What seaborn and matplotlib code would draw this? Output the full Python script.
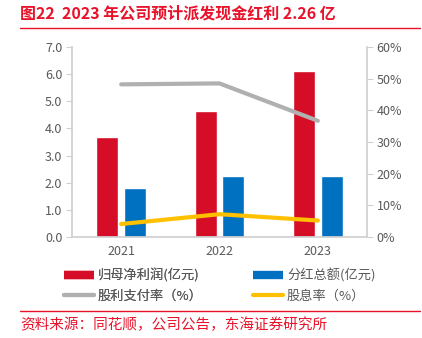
import matplotlib
matplotlib.use("Agg")
import matplotlib.pyplot as plt
from matplotlib.lines import Line2D
import seaborn as sns
import pandas as pd

years = ["2021", "2022", "2023"]
net_profit = [3.70, 4.64, 6.13]      # 归母净利润(亿元)
dividend = [1.79, 2.25, 2.26]        # 分红总额(亿元)
payout_ratio = [48.2, 48.5, 36.7]    # 股利支付率(%)
dividend_yield = [4.1, 7.2, 5.2]     # 股息率(%)

s_profit = "归母净利润(亿元)"
s_div = "分红总额(亿元)"
s_payout = "股利支付率（%）"
s_yield = "股息率（%）"

sns.set_theme(style="white")
plt.rcParams["font.family"] = ["Noto Sans CJK SC", "DejaVu Sans"]

RED = "#D50D26"
BLUE = "#0070C0"
GRAY = "#B0B0B0"
YELLOW = "#FFC000"
TXT = "#595959"
AX = "#D0D0D0"
TRED = "#E8122A"

df = pd.DataFrame({
    "year": years * 2,
    "value": net_profit + dividend,
    "series": [s_profit] * 3 + [s_div] * 3,
})

W, H = 422, 338
fig = plt.figure(figsize=(W / 100, H / 100), dpi=100)
ax = fig.add_axes([72 / W, (H - 237) / H, (367 - 72) / W, (237 - 47) / H])

sns.barplot(data=df, x="year", y="value", hue="series", order=years,
            hue_order=[s_profit, s_div], palette=[RED, BLUE],
            width=0.564, gap=0.2, ax=ax, legend=False, saturation=1)

ax.set_ylim(0, 7)
ax.set_yticks([i for i in range(8)])
ax.set_yticklabels([f"{i:.1f}" for i in range(8)])
ax.set_xlim(-0.5, 2.5)
ax.set_xlabel("")
ax.set_ylabel("")

ax2 = ax.twinx()
ldf = pd.DataFrame({"x": [0, 1, 2], "payout": payout_ratio, "yield": dividend_yield})
sns.lineplot(data=ldf, x="x", y="payout", color=GRAY, lw=3, ax=ax2)
sns.lineplot(data=ldf, x="x", y="yield", color=YELLOW, lw=3, ax=ax2)
ax2.set_ylim(0, 60)
ax2.set_yticks(range(0, 61, 10))
ax2.set_yticklabels([f"{v}%" for v in range(0, 61, 10)])
ax2.set_xlim(-0.5, 2.5)
ax2.set_xlabel("")
ax2.set_ylabel("")

for a in (ax, ax2):
    for sp in a.spines.values():
        sp.set_visible(False)
ax.spines["left"].set_visible(True)
ax.spines["left"].set_color(AX)
ax.spines["bottom"].set_visible(True)
ax.spines["bottom"].set_color(AX)
ax2.spines["right"].set_visible(True)
ax2.spines["right"].set_color(AX)

ax.set_xticks([-0.5, 0.5, 1.5], minor=True)
ax.tick_params(axis="x", which="minor", length=4, color=AX, width=0.8)
ax.tick_params(axis="x", which="major", length=0, labelsize=9, labelcolor=TXT, pad=6)
ax.tick_params(axis="y", length=4, color=AX, width=0.8, labelsize=9, labelcolor=TXT, pad=3, left=True)
ax2.tick_params(axis="y", length=4, color=AX, width=0.8, labelsize=9, labelcolor=TXT, pad=3, right=True)

def make_legend(hs, ls, x):
    lg = fig.legend(hs, ls, ncol=1, loc="upper left",
                    bbox_to_anchor=(x / W, 1 - 262 / H), frameon=False,
                    fontsize=9.5, handlelength=2.3, handletextpad=0.3,
                    labelspacing=0.55, borderpad=0)
    for t in lg.get_texts():
        t.set_color(TXT)
    return lg

leg1 = make_legend([Line2D([], [], color=RED, lw=6, solid_capstyle="butt"),
                    Line2D([], [], color=GRAY, lw=3)],
                   [s_profit, s_payout], 57)
fig.add_artist(leg1)
leg2 = make_legend([Line2D([], [], color=BLUE, lw=6, solid_capstyle="butt"),
                    Line2D([], [], color=YELLOW, lw=3)],
                   [s_div, s_yield], 246)

fig.text(20 / W, 1 - 14 / H, "图22  2023 年公司预计派发现金红利 2.26 亿",
         color=TRED, fontsize=11.5, fontweight="bold", va="center", ha="left")
fig.add_artist(Line2D([20 / W, 420 / W], [1 - 28 / H, 1 - 28 / H], color=TRED, lw=1))
fig.add_artist(Line2D([20 / W, 420 / W], [1 - 311 / H, 1 - 311 / H], color=TRED, lw=1))
fig.text(20 / W, 1 - 325 / H, "资料来源：同花顺，公司公告，东海证券研究所",
         color=TRED, fontsize=10.5, va="center", ha="left")

fig.savefig("out.png", dpi=100)
